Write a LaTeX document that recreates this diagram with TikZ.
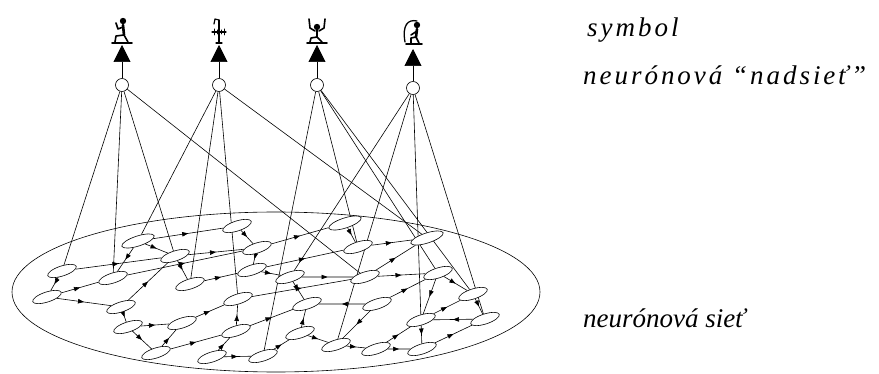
\documentclass[tikz,border=0pt]{standalone}
\usepackage{fontspec}
\setmainfont{Liberation Serif}
\newfontfamily\widefont[LetterSpace=11]{Liberation Serif Italic}
\newfontfamily\tightfont[LetterSpace=0]{Liberation Serif Italic}
\usetikzlibrary{shapes.geometric,arrows.meta,decorations.markings}
\pgfdeclarelayer{bg}
\pgfsetlayers{bg,main}
\tikzset{
  cell/.style={ellipse, draw, fill=white, line width=0.6pt, inner sep=0pt,
    minimum width=30pt, minimum height=10pt, rotate=18},
  unit/.style={circle, draw, fill=white, line width=0.6pt, minimum size=13pt, inner sep=0pt},
  rim/.style={line width=0.6pt},
  fan/.style={line width=0.6pt},
  link/.style={line width=0.6pt, postaction={decorate},
    decoration={markings, mark=at position 0.5 with {\arrow{Triangle[length=6pt,width=4.5pt]}}}},
  up/.style={line width=0.7pt, -{Triangle[length=17pt,width=17pt]}},
  glyph/.style={line width=1.6pt, line cap=round, line join=round},
  caption/.style={anchor=base west, inner sep=0pt, font=\widefont\fontsize{27}{31}\selectfont},
  caption2/.style={anchor=base west, inner sep=0pt, font=\tightfont\fontsize{27}{31}\selectfont}
}
\begin{document}
\begin{tikzpicture}[x=1pt, y=-1pt]
\useasboundingbox (0,0) rectangle (879,374);

% cells of the lower network
\node[cell] (n1) at (62,271) {};
\node[cell] (n2) at (113,278) {};
\node[cell] (n3) at (47,297) {};
\node[cell, minimum width=34pt] (n4) at (138,241) {};
\node[cell] (n5) at (175,256) {};
\node[cell] (n6) at (190,284) {};
\node[cell] (n7) at (121,307) {};
\node[cell] (n8) at (128,327) {};
\node[cell] (n9) at (182,323) {};
\node[cell] (n10) at (156,353) {};
\node[cell] (n11) at (212,357) {};
\node[cell] (n12) at (263,356) {};
\node[cell] (n13) at (236,331) {};
\node[cell] (n14) at (238,299) {};
\node[cell] (n15) at (252,270) {};
\node[cell] (n16) at (257,248) {};
\node[cell] (n17) at (237,226) {};
\node[cell] (n18) at (290,277) {};
\node[cell] (n19) at (307,304) {};
\node[cell] (n20) at (300,333) {};
\node[cell] (n21) at (336,345) {};
\node[cell] (n22) at (376,349) {};
\node[cell] (n23) at (422,349) {};
\node[cell] (n24) at (421,320) {};
\node[cell] (n25) at (485,319) {};
\node[cell] (n26) at (473,294) {};
\node[cell] (n27) at (438,273) {};
\node[cell, minimum width=34pt] (n28) at (427,238) {};
\node[cell] (n29) at (358,247) {};
\node[cell] (n30) at (365,277) {};
\node[cell] (n31) at (377,304) {};
\node[cell, minimum width=34pt] (n32) at (345,223) {};

% units of the upper network
\node[unit] (c1) at (122,85) {};
\node[unit] (c2) at (219,85) {};
\node[unit] (c3) at (317,85) {};
\node[unit] (c4) at (413,88) {};

\coordinate (t1) at (122,45);
\coordinate (t2) at (219,45);
\coordinate (t3) at (317,45);
\coordinate (t4) at (413,49);

\begin{pgfonlayer}{bg}
  \draw[rim] (276,292) ellipse [x radius=264pt, y radius=80pt];
  \foreach \a/\b in {c1/n1, c1/n2, c1/n5, c1/n30,
                     c2/n4, c2/n6, c2/n14, c2/n28,
                     c3/n12, c3/n29, c3/n27, c3/n26,
                     c4/n18, c4/n21, c4/n24, c4/n25}
    \draw[fan] (\a) -- (\b);
  \foreach \a/\b in {n4/n5, n4/n2, n4/n17, n1/n3, n1/n5, n3/n2, n3/n7,
                     n5/n6, n5/n16, n7/n5, n6/n15, n7/n8, n8/n9, n8/n10,
                     n10/n9, n10/n13, n11/n12, n11/n13, n13/n14, n9/n14,
                     n13/n19, n12/n20, n20/n19, n20/n21, n31/n19, n21/n22,
                     n22/n23, n22/n24, n31/n21, n24/n23, n23/n25, n25/n24,
                     n24/n26, n26/n25, n27/n26, n27/n24, n30/n27, n30/n28,
                     n29/n28, n32/n29, n17/n16, n16/n32, n16/n15, n15/n18,
                     n18/n30, n18/n19, n31/n27, n15/n29, n2/n16, n14/n30}
    \draw[link] (\a) -- (\b);
\end{pgfonlayer}

% outputs of the upper units
\draw[up] (c1) -- (t1);
\draw[up] (c2) -- (t2);
\draw[up] (c3) -- (t3);
\draw[up] (c4) -- (t4);

% hieroglyphic symbols
\begin{scope}[shift={(122,31)}]
  \draw[glyph] (-10,12) -- (10,12);
  \fill (1,-10) circle (3.2pt);
  \draw[glyph, line width=2.6pt] (1,-6) -- (2,4);
  \draw[glyph] (2,4) -- (-6,5) -- (-7,11);
  \draw[glyph] (2,4) -- (6,11);
  \draw[glyph] (1,-4) -- (-4,-2) -- (-6,-8);
\end{scope}
\begin{scope}[shift={(219,31)}]
  \draw[glyph, line width=1.2pt] (0,-11) -- (0,12);
  \draw[glyph, line width=1.2pt] (0,-11) -- (-4,-12) -- (-5,-7);
  \draw[glyph, line width=1.2pt] (-7,1) -- (7,1);
  \draw[glyph, line width=1pt] (-5,-2) -- (-5,4) (5,-2) -- (5,4) (-2,-1) -- (-2,3) (2,-1) -- (2,3);
  \draw[glyph, line width=1.2pt] (-3,12) -- (3,12);
\end{scope}
\begin{scope}[shift={(317,31)}]
  \draw[glyph] (-10,12) -- (10,12);
  \fill (0,-4) circle (3.2pt);
  \draw[glyph] (-8,-12) -- (-7,-3) -- (-2,0);
  \draw[glyph] (8,-12) -- (7,-3) -- (2,0);
  \draw[glyph, line width=2.6pt] (0,-1) -- (0,6);
  \draw[glyph] (0,6) -- (-6,7) -- (-7,11);
  \draw[glyph] (0,6) -- (5,11);
\end{scope}
\begin{scope}[shift={(413,32)}]
  \draw[glyph] (-7,12) -- (9,12);
  \draw[glyph, line width=1.3pt] (-8,10) .. controls (-11,-7) and (-5,-13) .. (4,-11);
  \fill (4,-7) circle (3.2pt);
  \draw[glyph, line width=2.6pt] (4,-3) -- (3,5);
  \draw[glyph] (3,5) -- (-2,6) -- (-2,11);
  \draw[glyph] (3,5) -- (6,11);
  \draw[glyph] (4,-1) -- (-2,3);
\end{scope}

% captions
\node[caption] (lsym) at (587,37) {symbol};
\node[caption] (lsup) at (583,85) {neurónová “nadsieť”};
\node[caption2] (lnet) at (583,327) {neurónová sieť};
\end{tikzpicture}
\end{document}
